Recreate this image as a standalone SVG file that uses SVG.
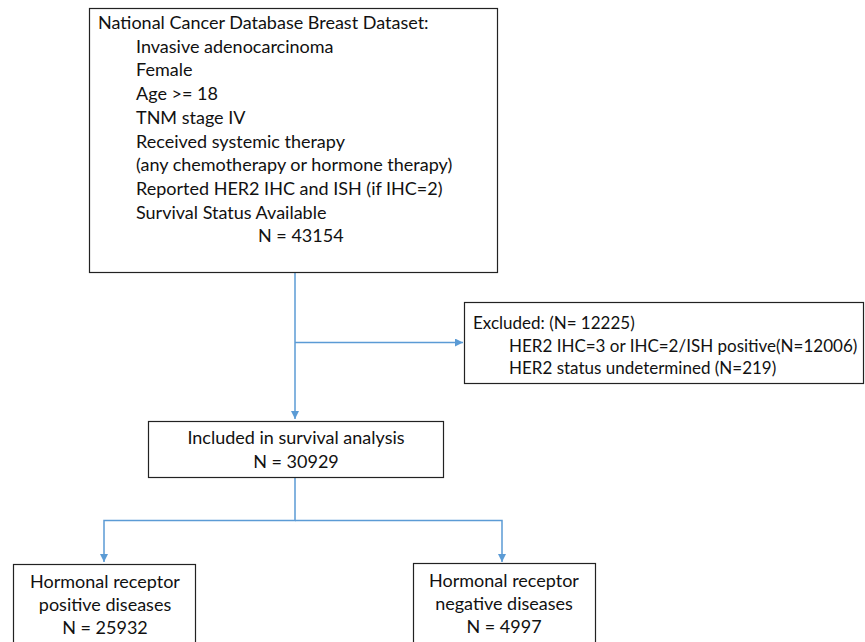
<svg xmlns="http://www.w3.org/2000/svg" width="865" height="642" viewBox="0 0 865 642">
<defs>
<marker id="arr" viewBox="0 0 10 10" refX="10" refY="5" markerWidth="8" markerHeight="8" markerUnits="userSpaceOnUse" orient="auto">
<path d="M0,0 L10,5 L0,10 z" fill="#5b9bd5"/>
</marker>
</defs>
<style>
.box{fill:#fff;stroke:#222;stroke-width:1.2}
.t{font-family:Lato,"Liberation Sans",sans-serif;font-size:18px;fill:#111}
.s{font-size:17px}
.c{text-anchor:middle}
.con{fill:none;stroke:#5b9bd5;stroke-width:1.5}
</style>
<rect width="865" height="642" fill="#fff"/>
<g id="connectors">
<path class="con" d="M295,273 V419" marker-end="url(#arr)"/>
<path class="con" d="M295,342.5 H463" marker-end="url(#arr)"/>
<path class="con" d="M295,477 V520.5 H104 V562" marker-end="url(#arr)"/>
<path class="con" d="M295,520.5 H502 V562"  marker-end="url(#arr)"/>
</g>
<g id="source">
<rect class="box" x="89.5" y="8.5" width="408" height="264"/>
<text class="t" x="98" y="29">National Cancer Database Breast Dataset:</text>
<text class="t" x="136" y="52.7">Invasive adenocarcinoma</text>
<text class="t" x="136" y="76.4">Female</text>
<text class="t" x="136" y="100.1">Age &gt;= 18</text>
<text class="t" x="136" y="123.8">TNM stage IV</text>
<text class="t" x="136" y="147.5">Received systemic therapy</text>
<text class="t" x="136" y="171.2">(any chemotherapy or hormone therapy)</text>
<text class="t" x="136" y="194.9">Reported HER2 IHC and ISH (if IHC=2)</text>
<text class="t" x="136" y="218.6">Survival Status Available</text>
<text class="t" x="258" y="242.3">N = 43154</text>
</g>
<g id="excluded">
<rect class="box" x="464.5" y="302.5" width="399" height="81"/>
<text class="t s" x="473" y="329">Excluded: (N= 12225)</text>
<text class="t s" x="509" y="351.5">HER2 IHC=3 or IHC=2/ISH positive(N=12006)</text>
<text class="t s" x="509" y="374">HER2 status undetermined (N=219)</text>
</g>
<g id="included">
<rect class="box" x="148.5" y="421.5" width="295" height="56"/>
<text class="t c" x="296" y="444">Included in survival analysis</text>
<text class="t c" x="296" y="467.5">N = 30929</text>
</g>
<g id="hr-positive">
<rect class="box" x="13.5" y="564.5" width="182" height="90"/>
<text class="t c" x="105" y="587.5">Hormonal receptor</text>
<text class="t c" x="105" y="610.5">positive diseases</text>
<text class="t c" x="105" y="633.5">N = 25932</text>
</g>
<g id="hr-negative">
<rect class="box" x="413.5" y="563.5" width="182" height="90"/>
<text class="t c" x="504" y="586.5">Hormonal receptor</text>
<text class="t c" x="504" y="609.5">negative diseases</text>
<text class="t c" x="504" y="632.5">N = 4997</text>
</g>
</svg>
